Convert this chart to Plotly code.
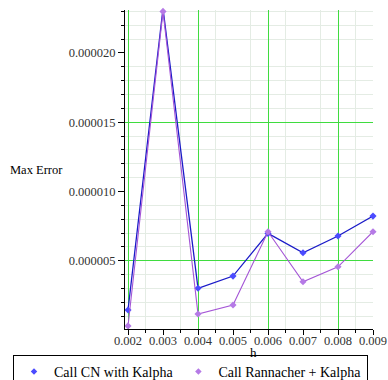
import plotly.graph_objects as go

h = [0.002, 0.003, 0.004, 0.005, 0.006, 0.007, 0.008, 0.009]
cn_kalpha = [1.45e-6, 23.2e-6, 3.02e-6, 3.9e-6, 6.98e-6, 5.58e-6, 6.79e-6, 8.23e-6]
rannacher_kalpha = [0.30e-6, 23.0e-6, 1.16e-6, 1.81e-6, 7.1e-6, 3.49e-6, 4.57e-6, 7.1e-6]
series_names = ["Call CN with Kalpha", "Call Rannacher + Kalpha"]

SERIF = "Liberation Serif"
XR = [0.001914, 0.009]
YR = [0.08e-6, 23.1e-6]

cn_line, cn_mark = "#1a1ac8", "#4b4bff"
rn_line, rn_mark = "#a455d6", "#b57ae6"

fig = go.Figure()
fig.add_trace(go.Scatter(
    x=h, y=cn_kalpha, name=series_names[0], mode="lines+markers", showlegend=False,
    line=dict(color=cn_line, width=1.3),
    marker=dict(symbol="diamond", size=5.5, color=cn_mark),
    cliponaxis=False, xaxis="x", yaxis="y"))
fig.add_trace(go.Scatter(
    x=h, y=rannacher_kalpha, name=series_names[1], mode="lines+markers", showlegend=False,
    line=dict(color=rn_line, width=1.1),
    marker=dict(symbol="diamond", size=5.5, color=rn_mark),
    cliponaxis=False, xaxis="x2", yaxis="y2"))
# legend-only entries (marker symbol only, as in the reference legend)
fig.add_trace(go.Scatter(x=[None], y=[None], name=series_names[0], mode="markers",
                         marker=dict(symbol="diamond", size=5, color=cn_mark)))
fig.add_trace(go.Scatter(x=[None], y=[None], name=series_names[1], mode="markers",
                         marker=dict(symbol="diamond", size=5, color=rn_mark)))

tickfont = dict(family=SERIF, size=12.5, color="#333333")
minor_grid = "#e4ece4"
major_grid = "#3fdc3f"

fig.update_layout(
    width=388, height=380,
    margin=dict(l=125, r=15, t=10, b=51, autoexpand=False),
    paper_bgcolor="white", plot_bgcolor="white",
    showlegend=True,
    legend=dict(orientation="h", x=(13 - 125) / 248, xanchor="left",
                y=(329 - 355) / 319, yanchor="top",
                bordercolor="black", borderwidth=1,
                font=dict(family=SERIF, size=14, color="black"),
                bgcolor="rgba(0,0,0,0)"),
    xaxis=dict(range=XR, dtick=0.001, tick0=0.002, tickformat=".3f",
               showgrid=False, zeroline=False, showline=True, linecolor="black", linewidth=1,
               ticks="outside", ticklen=5, tickcolor="black", tickfont=tickfont,
               ticklabelstandoff=-5,
               minor=dict(dtick=0.0005, tick0=0.002, ticks="outside", ticklen=3, tickcolor="black",
                          showgrid=True, gridcolor=minor_grid, gridwidth=1)),
    yaxis=dict(range=YR, dtick=5e-6, tick0=0, tickformat=".6f",
               showgrid=False, zeroline=False, showline=True, linecolor="black", linewidth=1,
               ticks="outside", ticklen=6, tickcolor="black", tickfont=tickfont,
               minor=dict(dtick=1e-6, tick0=0, ticks="outside", ticklen=3, tickcolor="black",
                          showgrid=True, gridcolor=minor_grid, gridwidth=1)),
    xaxis2=dict(overlaying="x", matches="x", range=XR, dtick=0.002, tick0=0.002,
                showgrid=True, gridcolor=major_grid, gridwidth=1.3,
                showticklabels=False, ticks="", zeroline=False, showline=False),
    yaxis2=dict(overlaying="y", matches="y", range=YR, dtick=1e-5, tick0=5e-6, side="left",
                showgrid=True, gridcolor=major_grid, gridwidth=1.3,
                showticklabels=False, ticks="", zeroline=False, showline=False),
    annotations=[
        dict(text="Max Error", xref="paper", yref="paper", x=(36 - 125) / 248, y=(329 - 170) / 319,
             xanchor="center", yanchor="middle", showarrow=False,
             font=dict(family=SERIF, size=12.5, color="black")),
        dict(text="h", xref="paper", yref="paper", x=(253 - 125) / 248, y=(329 - 352) / 319,
             xanchor="center", yanchor="middle", showarrow=False,
             font=dict(family=SERIF, size=13, color="black")),
    ],
)

fig.write_html("out.html")
